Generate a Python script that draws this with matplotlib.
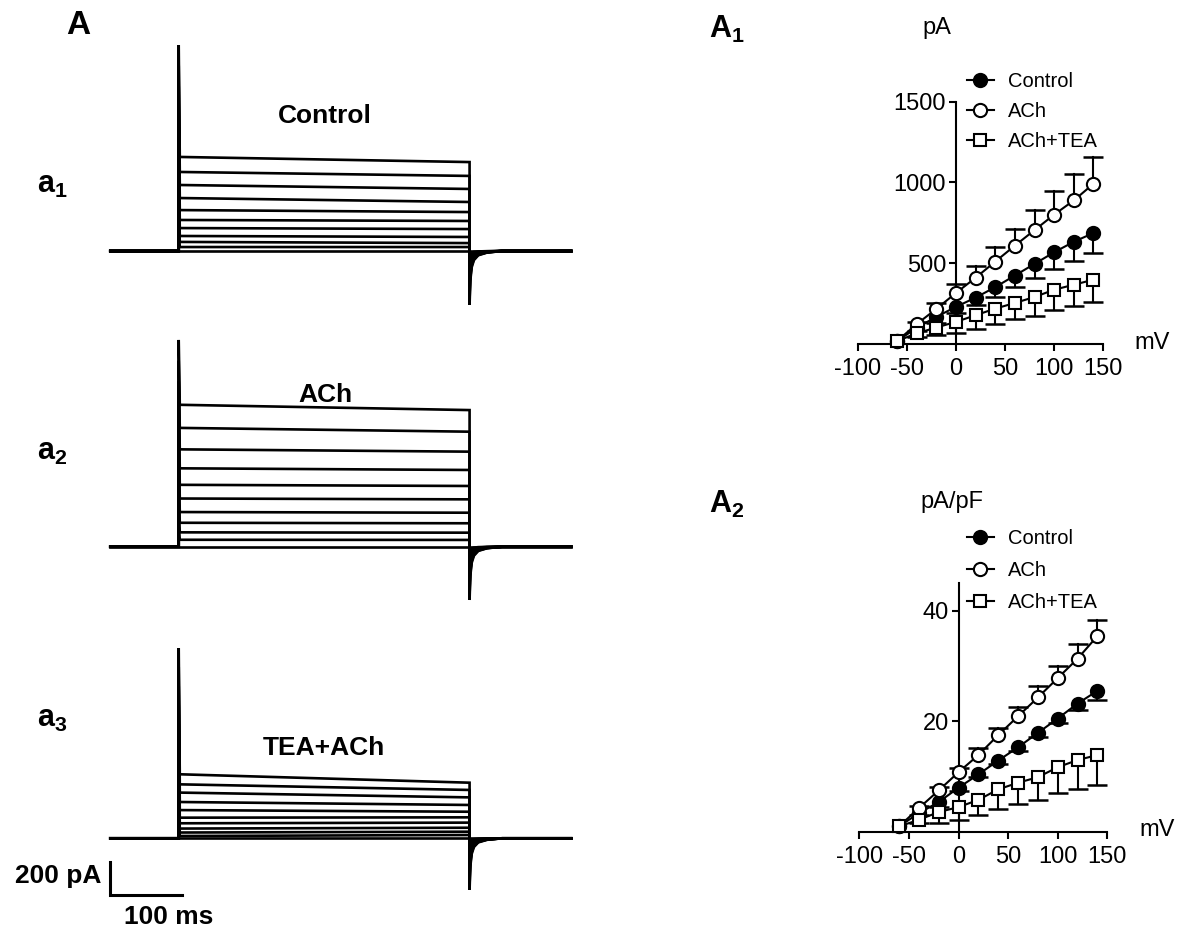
import numpy as np
import matplotlib
matplotlib.use('Agg')
import matplotlib.pyplot as plt

plt.rcParams['font.family'] = ['Liberation Sans', 'DejaVu Sans']
plt.rcParams['mathtext.fontset'] = 'custom'
plt.rcParams['mathtext.rm'] = 'Liberation Sans'
plt.rcParams['mathtext.bf'] = 'Liberation Sans:bold'
plt.rcParams['axes.unicode_minus'] = False

# ---- I-V data (step potentials, mV) ----
volts = [-60, -40, -20, 0, 20, 40, 60, 80, 100, 120, 140]

# A1: current (pA), mean and one-sided SEM
ctrl_pa = [18, 100, 168, 230, 287, 352, 424, 496, 568, 633, 687]
ctrl_pa_err = [0, 20, 40, 40, 47, 61, 72, 88, 105, 117, 121]
ach_pa = [18, 123, 217, 316, 410, 510, 609, 705, 801, 889, 992]
ach_pa_err = [0, 12, 39, 57, 74, 88, 106, 123, 144, 164, 166]
tea_pa = [18, 66, 102, 137, 178, 219, 254, 291, 336, 367, 398]
tea_pa_err = [0, 21, 45, 71, 88, 96, 102, 119, 123, 133, 138]

# A2: current density (pA/pF)
ctrl_dens = [1.0, 3.4, 5.4, 8.0, 10.4, 12.9, 15.3, 17.9, 20.5, 23.2, 25.5]
ctrl_dens_err = [0, 0.3, 0.8, 0.6, 0.5, 0.6, 0.6, 0.7, 0.8, 1.2, 1.6]
ach_dens = [1.0, 4.3, 7.5, 10.8, 13.9, 17.5, 20.9, 24.3, 27.8, 31.3, 35.4]
ach_dens_err = [0, 0.4, 0.6, 0.8, 1.3, 1.3, 1.7, 2.0, 2.1, 2.6, 2.9]
tea_dens = [1.0, 2.2, 3.6, 4.5, 5.8, 7.7, 8.9, 9.9, 11.7, 13.0, 13.9]
tea_dens_err = [0, 0.5, 2.0, 2.3, 2.8, 3.5, 3.8, 4.2, 4.65, 5.2, 5.35]

# ---- raw traces: plateau current (pA) at start / end of the step, top trace first ----
trace_volts = [140, 120, 100, 80, 60, 40, 20, 0, -20, -40, -60]
ctrl_start = [570, 479, 400, 321, 248, 188, 139, 91, 55, 24, 0]
ctrl_end = [539, 455, 376, 297, 236, 182, 133, 85, 48, 24, 0]
ach_start = [860, 720, 590, 475, 375, 292, 210, 145, 87, 42, 0]
ach_end = [828, 697, 576, 465, 368, 287, 206, 142, 85, 41, 0]
tea_start = [388, 327, 277, 220, 171, 125, 91, 59, 35, 14, 0]
tea_end = [337, 293, 248, 202, 161, 127, 95, 64, 40, 20, 0]

# transients (pA) and time course of the tail transient
on_peak = [1248, 1253, 1153]
tail_peak = [327, 323, 313]
tail_ms = [0, 1, 3, 6, 12, 24, 45]
tail_frac = [1.0, 0.55, 0.3, 0.17, 0.08, 0.03, 0.0]

t_begin, t_on, t_off, t_end = 5, 100, 504, 645

W, H = 1187, 932


def fx(px):
    return px / W


def fy(py):
    return 1 - py / H


fig = plt.figure(figsize=(W / 100, H / 100), dpi=100)

PX_PER_MS = 0.72
PX_PER_PA = 0.165
X0 = 106.7


def trace_axes(top_px, bottom_px, base_px):
    ax = fig.add_axes([0, fy(bottom_px), fx(600), (bottom_px - top_px) / H])
    ax.set_xlim(-X0 / PX_PER_MS, (600 - X0) / PX_PER_MS)
    ax.set_ylim((base_px - bottom_px) / PX_PER_PA, (base_px - top_px) / PX_PER_PA)
    ax.axis('off')
    return ax


def draw_traces(ax, starts, ends, peak, tail):
    vmin = min(trace_volts)
    vspan = max(trace_volts) - vmin
    for v, s, e in zip(trace_volts, starts, ends):
        f = (v - vmin) / vspan
        t = [t_begin, t_on, t_on, t_on + 1.5, t_off]
        y = [0, 0, peak * f, s, e]
        t += [t_off + dt for dt in tail_ms]
        y += [-tail * f * fr for fr in tail_frac]
        t.append(t_end)
        y.append(0)
        ax.plot(t, y, color='k', lw=1.9, solid_joinstyle='miter')


ax1 = trace_axes(30, 320, 251)
draw_traces(ax1, ctrl_start, ctrl_end, on_peak[0], tail_peak[0])
ax2 = trace_axes(320, 610, 546.7)
draw_traces(ax2, ach_start, ach_end, on_peak[1], tail_peak[1])
ax3 = trace_axes(610, 932, 838.3)
draw_traces(ax3, tea_start, tea_end, on_peak[2], tail_peak[2])

# scale bar
bar_ms, bar_pa = 100, 200
bar_top = -143.6
ax3.plot([t_begin, t_begin, t_begin + bar_ms], [bar_top, bar_top - bar_pa, bar_top - bar_pa],
         color='k', lw=2.2, solid_joinstyle='miter', clip_on=False)

bold = dict(fontweight='bold', ha='center', va='center')
fig.text(fx(78), fy(25), 'A', fontsize=24, **bold)
fig.text(fx(325), fy(116), 'Control', fontsize=19, **bold)
fig.text(fx(325), fy(395), 'ACh', fontsize=19, **bold)
fig.text(fx(324), fy(748), 'TEA+ACh', fontsize=19, **bold)
fig.text(fx(101), fy(876), '200 pA', fontsize=19, fontweight='bold', ha='right', va='center')
fig.text(fx(169), fy(917), '100 ms', fontsize=19, **bold)
fig.text(fx(37), fy(193), r'$\mathbf{a}_\mathbf{1}$', fontsize=22, va='baseline')
fig.text(fx(37), fy(460), r'$\mathbf{a}_\mathbf{2}$', fontsize=22, va='baseline')
fig.text(fx(37), fy(727), r'$\mathbf{a}_\mathbf{3}$', fontsize=22, va='baseline')
fig.text(fx(709), fy(38), r'$\mathbf{A}_\mathbf{1}$', fontsize=22, va='baseline')
fig.text(fx(709), fy(513), r'$\mathbf{A}_\mathbf{2}$', fontsize=22, va='baseline')


def iv_axes(rect, ymax, yticks):
    ax = fig.add_axes(rect)
    ax.patch.set_alpha(0)
    for side in ['top', 'right']:
        ax.spines[side].set_visible(False)
    ax.spines['left'].set_position(('data', 0))
    ax.spines['bottom'].set_position(('data', 0))
    for side in ['left', 'bottom']:
        ax.spines[side].set_linewidth(1.5)
    ax.set_xlim(-100, 150)
    ax.set_ylim(0, ymax)
    ax.set_xticks([-100, -50, 0, 50, 100, 150])
    ax.set_yticks(yticks)
    ax.tick_params(direction='out', length=5, width=1.5, labelsize=17)
    ax.tick_params(axis='x', pad=5)
    ax.tick_params(axis='y', pad=2)
    return ax


def series(ax, y, err, upper, marker, face, ms):
    y = np.array(y, float)
    err = np.array(err, float)
    x = np.array(volts, float)
    tip = y + err if upper else y - err
    keep = err > 0
    for xi, yi, ti in zip(x[keep], y[keep], tip[keep]):
        ax.plot([xi, xi], [yi, ti], color='k', lw=1.5, zorder=2, clip_on=False)
    ax.plot(x[keep], tip[keep], ls='none', marker='_', ms=14, mew=1.8, color='k',
            zorder=2, clip_on=False)
    line, = ax.plot(x, y, color='k', lw=1.5, marker=marker, ms=ms, mfc=face, mec='k',
                    mew=1.5, zorder=3, clip_on=False)
    return line


def iv_plot(ax, data, legend_top, spacing):
    handles = []
    for y, err, upper, marker, face, ms in data:
        handles.append(series(ax, y, err, upper, marker, face, ms))
    ax.legend(handles, ['Control', 'ACh', 'ACh+TEA'], loc='upper left',
              bbox_to_anchor=(fx(966.7), fy(legend_top)), bbox_transform=fig.transFigure,
              frameon=False, fontsize=14.5, handlelength=1.36, handletextpad=0.67,
              labelspacing=spacing, borderpad=0, borderaxespad=0)


axA1 = iv_axes([fx(857.7), fy(344), 245.6 / W, 242.3 / H], 1500, [500, 1000, 1500])
iv_plot(axA1, [(ctrl_pa, ctrl_pa_err, False, 'o', 'k', 9.5),
               (ach_pa, ach_pa_err, True, 'o', 'w', 9.5),
               (tea_pa, tea_pa_err, False, 's', 'w', 8.5)], 72, 0.55)

axA2 = iv_axes([fx(859.3), fy(832), 248 / W, 249.1 / H], 45, [20, 40])
iv_plot(axA2, [(ctrl_dens, ctrl_dens_err, False, 'o', 'k', 9.5),
               (ach_dens, ach_dens_err, True, 'o', 'w', 9.5),
               (tea_dens, tea_dens_err, False, 's', 'w', 8.5)], 529, 0.65)

fig.text(fx(937), fy(28), 'pA', fontsize=17, ha='center', va='center')
fig.text(fx(1152), fy(343), 'mV', fontsize=17, ha='center', va='center')
fig.text(fx(952), fy(502), 'pA/pF', fontsize=17, ha='center', va='center')
fig.text(fx(1157), fy(830), 'mV', fontsize=17, ha='center', va='center')

fig.savefig('out.png', dpi=100)
